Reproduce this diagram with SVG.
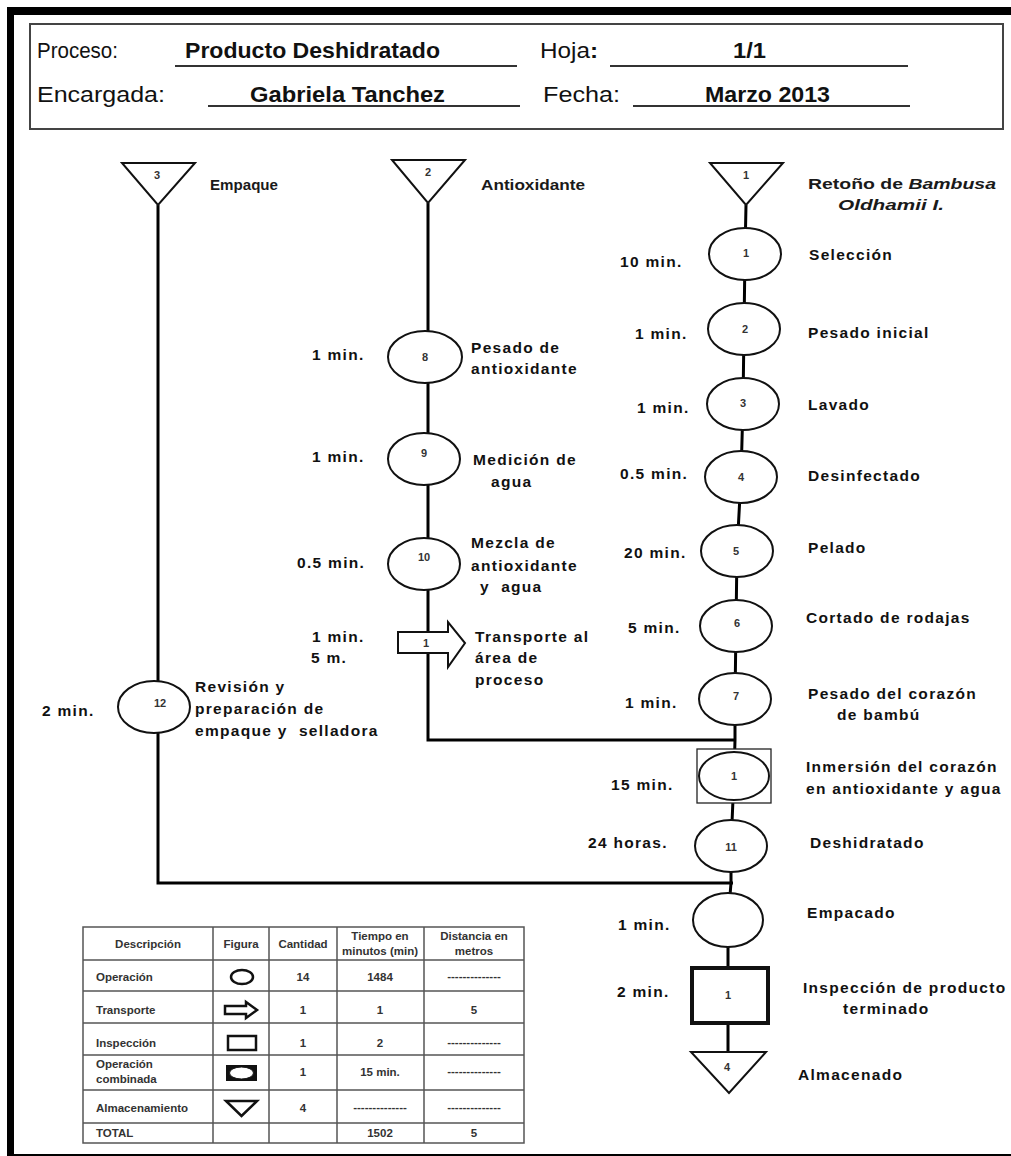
<svg xmlns="http://www.w3.org/2000/svg" width="1011" height="1156" viewBox="0 0 1011 1156">
  <style>
    .frame { fill: #000; }
    .ln { stroke: #000; stroke-width: 3; fill: none; stroke-linejoin: miter; }
    .op { fill: #fff; stroke: #111; stroke-width: 2; }
    .tri { fill: #fff; stroke: #111; stroke-width: 2; }
    .num { font-family: "Liberation Sans", Arial, sans-serif; font-weight: bold; font-size: 11px; fill: #333; text-anchor: middle; }
    .lbl { font-family: "Liberation Sans", Arial, sans-serif; font-weight: bold; font-size: 15.5px; letter-spacing: 1.3px; fill: #111; }
    .top { font-family: "Liberation Sans", Arial, sans-serif; font-size: 15px; font-weight: bold; fill: #1a1a1a; }
    .hd { font-family: "Liberation Sans", Arial, sans-serif; font-size: 22px; fill: #111; }
    .hdb { font-family: "Liberation Sans", Arial, sans-serif; font-size: 22px; font-weight: bold; fill: #111; }
    .ul { stroke: #333; stroke-width: 2; }
    .tb { stroke: #555; stroke-width: 1.5; fill: none; }
    .tt { font-family: "Liberation Sans", Arial, sans-serif; font-weight: bold; font-size: 11.5px; fill: #333; }
    .tc { text-anchor: middle; }
    .fig { fill: #fff; stroke: #111; stroke-width: 2.5; }
  </style>

  <rect width="1011" height="1156" fill="#fff"/>

  <!-- outer frame -->
  <g id="frame">
    <rect class="frame" x="7" y="7" width="1004" height="8"/>
    <rect class="frame" x="7" y="7" width="7" height="1149"/>
    <rect class="frame" x="7" y="1154" width="1004" height="2"/>
  </g>

  <!-- header block -->
  <g id="header">
    <rect x="30" y="24" width="973" height="105" fill="#fff" stroke="#444" stroke-width="2"/>
    <text class="hd" x="37" y="58" textLength="81" lengthAdjust="spacingAndGlyphs">Proceso:</text>
    <text class="hdb" x="185" y="58" textLength="255" lengthAdjust="spacingAndGlyphs">Producto Deshidratado</text>
    <line class="ul" x1="175" y1="66" x2="517" y2="66"/>
    <text class="hd" x="540" y="58" textLength="58" lengthAdjust="spacingAndGlyphs">Hoja<tspan font-weight="bold">:</tspan></text>
    <line class="ul" x1="610" y1="66" x2="908" y2="66"/>
    <text class="hdb" x="733" y="58" textLength="33" lengthAdjust="spacingAndGlyphs">1/1</text>
    <text class="hd" x="37" y="102" textLength="128" lengthAdjust="spacingAndGlyphs">Encargada:</text>
    <text class="hdb" x="250" y="102" textLength="195" lengthAdjust="spacingAndGlyphs">Gabriela Tanchez</text>
    <line class="ul" x1="208" y1="106" x2="520" y2="106"/>
    <text class="hd" x="543" y="102" textLength="77" lengthAdjust="spacingAndGlyphs">Fecha:</text>
    <text class="hdb" x="705" y="102" textLength="125" lengthAdjust="spacingAndGlyphs">Marzo 2013</text>
    <line class="ul" x1="633" y1="106" x2="910" y2="106"/>
  </g>

  <!-- connectors -->
  <g id="connectors">
    <path class="ln" d="M158 205 V883 H733"/>
    <path class="ln" d="M428 203 V740 H735"/>
    <path class="ln" d="M746 205 L745 254 L744 329 L743 404 L741 477 L737 551 L736 626 L735 699 L735 740 L734 776 L731 846 L731 883 L728 920 L728 995 L728 1052"/>
  </g>

  <!-- storage starts -->
  <g id="store3">
    <polygon class="tri" points="122,163 195,163 158,205"/>
    <text class="num" x="157" y="179">3</text>
    <text class="top" x="210" y="190" textLength="68" lengthAdjust="spacingAndGlyphs">Empaque</text>
  </g>
  <g id="store2">
    <polygon class="tri" points="392,160 465,160 428,203"/>
    <text class="num" x="428" y="176">2</text>
    <text class="top" x="481" y="190" textLength="104" lengthAdjust="spacingAndGlyphs">Antioxidante</text>
  </g>
  <g id="store1">
    <polygon class="tri" points="710,163 783,163 746,205"/>
    <text class="num" x="746" y="179">1</text>
    <text class="top" x="808" y="189" textLength="188" lengthAdjust="spacingAndGlyphs">Retoño de <tspan font-style="italic">Bambusa</tspan></text>
    <text class="top" x="838" y="210" font-style="italic" textLength="106" lengthAdjust="spacingAndGlyphs">Oldhamii I.</text>
  </g>

  <!-- main line operations -->
  <g id="op1">
    <ellipse class="op" cx="745" cy="254" rx="36" ry="26"/>
    <text class="num" x="746" y="257">1</text>
    <text class="lbl" x="620" y="267">10 min.</text>
    <text class="lbl" x="809" y="260">Selección</text>
  </g>
  <g id="op2">
    <ellipse class="op" cx="744" cy="329" rx="36" ry="26"/>
    <text class="num" x="745" y="333">2</text>
    <text class="lbl" x="635" y="339">1 min.</text>
    <text class="lbl" x="808" y="338">Pesado inicial</text>
  </g>
  <g id="op3">
    <ellipse class="op" cx="743" cy="404" rx="36" ry="26"/>
    <text class="num" x="743" y="407">3</text>
    <text class="lbl" x="637" y="413">1 min.</text>
    <text class="lbl" x="808" y="410">Lavado</text>
  </g>
  <g id="op4">
    <ellipse class="op" cx="741" cy="477" rx="36" ry="26"/>
    <text class="num" x="741" y="481">4</text>
    <text class="lbl" x="620" y="479">0.5 min.</text>
    <text class="lbl" x="808" y="481">Desinfectado</text>
  </g>
  <g id="op5">
    <ellipse class="op" cx="737" cy="551" rx="36" ry="26"/>
    <text class="num" x="736" y="555">5</text>
    <text class="lbl" x="624" y="558">20 min.</text>
    <text class="lbl" x="808" y="553">Pelado</text>
  </g>
  <g id="op6">
    <ellipse class="op" cx="736" cy="626" rx="36" ry="26"/>
    <text class="num" x="737" y="627">6</text>
    <text class="lbl" x="628" y="633">5 min.</text>
    <text class="lbl" x="806" y="623">Cortado de rodajas</text>
  </g>
  <g id="op7">
    <ellipse class="op" cx="735" cy="699" rx="36" ry="26"/>
    <text class="num" x="736" y="700">7</text>
    <text class="lbl" x="625" y="708">1 min.</text>
    <text class="lbl" x="808" y="699">Pesado del corazón</text>
    <text class="lbl" x="837" y="720">de bambú</text>
  </g>

  <!-- combined operation -->
  <g id="combined1">
    <rect x="697" y="749" width="74" height="54" fill="#fff" stroke="#222" stroke-width="1.3"/>
    <ellipse class="op" cx="734" cy="776" rx="35" ry="24"/>
    <text class="num" x="734" y="780">1</text>
    <text class="lbl" x="611" y="790">15 min.</text>
    <text class="lbl" x="806" y="772">Inmersión del corazón</text>
    <text class="lbl" x="806" y="794">en antioxidante y agua</text>
  </g>
  <g id="op11">
    <ellipse class="op" cx="731" cy="846" rx="36" ry="26"/>
    <text class="num" x="731" y="851">11</text>
    <text class="lbl" x="588" y="848">24 horas.</text>
    <text class="lbl" x="810" y="848">Deshidratado</text>
  </g>
  <g id="op-empacado">
    <ellipse class="op" cx="728" cy="920" rx="35" ry="27"/>
    <text class="lbl" x="618" y="930">1 min.</text>
    <text class="lbl" x="807" y="918">Empacado</text>
  </g>
  <g id="insp1">
    <rect x="692" y="968" width="76" height="55" fill="#fff" stroke="#111" stroke-width="4"/>
    <text class="num" x="728" y="999">1</text>
    <text class="lbl" x="617" y="997">2 min.</text>
    <text class="lbl" x="803" y="993">Inspección de producto</text>
    <text class="lbl" x="843" y="1014">terminado</text>
  </g>
  <g id="store4">
    <polygon class="tri" points="691,1052 766,1052 729,1093"/>
    <text class="num" x="727" y="1071">4</text>
    <text class="lbl" x="798" y="1080">Almacenado</text>
  </g>

  <!-- antioxidant line -->
  <g id="op8">
    <ellipse class="op" cx="425" cy="357" rx="37" ry="26"/>
    <text class="num" x="425" y="361">8</text>
    <text class="lbl" x="312" y="360">1 min.</text>
    <text class="lbl" x="471" y="353">Pesado de</text>
    <text class="lbl" x="471" y="374">antioxidante</text>
  </g>
  <g id="op9">
    <ellipse class="op" cx="424" cy="459" rx="36" ry="26"/>
    <text class="num" x="424" y="457">9</text>
    <text class="lbl" x="312" y="462">1 min.</text>
    <text class="lbl" x="473" y="465">Medición de</text>
    <text class="lbl" x="491" y="487">agua</text>
  </g>
  <g id="op10">
    <ellipse class="op" cx="424" cy="564" rx="36" ry="26"/>
    <text class="num" x="424" y="561">10</text>
    <text class="lbl" x="297" y="568">0.5 min.</text>
    <text class="lbl" x="471" y="548">Mezcla de</text>
    <text class="lbl" x="471" y="571">antioxidante</text>
    <text class="lbl" x="480" y="592" xml:space="preserve">y  agua</text>
  </g>
  <g id="transport1">
    <polygon class="op" points="398,632 448,632 448,622 465,643 448,667 448,653 398,653"/>
    <text class="num" x="426" y="647">1</text>
    <text class="lbl" x="312" y="642">1 min.</text>
    <text class="lbl" x="311" y="663">5 m.</text>
    <text class="lbl" x="475" y="642">Transporte al</text>
    <text class="lbl" x="475" y="663">área de</text>
    <text class="lbl" x="475" y="685">proceso</text>
  </g>

  <!-- packaging line -->
  <g id="op12">
    <ellipse class="op" cx="154" cy="707" rx="36" ry="26"/>
    <text class="num" x="160" y="707">12</text>
    <text class="lbl" x="42" y="716">2 min.</text>
    <text class="lbl" x="195" y="692">Revisión y</text>
    <text class="lbl" x="195" y="714">preparación de</text>
    <text class="lbl" x="195" y="736" xml:space="preserve">empaque y  selladora</text>
  </g>

  <!-- summary table -->
  <g id="summary">
    <rect class="tb" x="83" y="927" width="441" height="216" fill="#fff"/>
    <g class="tb">
      <line x1="213" y1="927" x2="213" y2="1143"/>
      <line x1="269" y1="927" x2="269" y2="1143"/>
      <line x1="337" y1="927" x2="337" y2="1143"/>
      <line x1="424" y1="927" x2="424" y2="1143"/>
      <line x1="83" y1="960" x2="524" y2="960"/>
      <line x1="83" y1="991" x2="524" y2="991"/>
      <line x1="83" y1="1023" x2="524" y2="1023"/>
      <line x1="83" y1="1055" x2="524" y2="1055"/>
      <line x1="83" y1="1090" x2="524" y2="1090"/>
      <line x1="83" y1="1123" x2="524" y2="1123"/>
    </g>
    <text class="tt tc" x="148" y="948">Descripción</text>
    <text class="tt tc" x="241" y="948">Figura</text>
    <text class="tt tc" x="303" y="948">Cantidad</text>
    <text class="tt tc" x="380" y="940">Tiempo en</text>
    <text class="tt tc" x="380" y="955">minutos (min)</text>
    <text class="tt tc" x="474" y="940">Distancia en</text>
    <text class="tt tc" x="474" y="955">metros</text>

    <text class="tt" x="96" y="981">Operación</text>
    <ellipse class="fig" cx="242" cy="977" rx="11" ry="7"/>
    <text class="tt tc" x="303" y="981">14</text>
    <text class="tt tc" x="380" y="981">1484</text>
    <text class="tt tc" x="474" y="980" font-size="8">--------------</text>

    <text class="tt" x="96" y="1014">Transporte</text>
    <polygon class="fig" points="225,1006 246,1006 246,1002 257,1010 246,1018 246,1014 225,1014" stroke-width="2"/>
    <text class="tt tc" x="303" y="1014">1</text>
    <text class="tt tc" x="380" y="1014">1</text>
    <text class="tt tc" x="474" y="1014">5</text>

    <text class="tt" x="96" y="1047">Inspección</text>
    <rect class="fig" x="228" y="1036" width="28" height="14"/>
    <text class="tt tc" x="303" y="1047">1</text>
    <text class="tt tc" x="380" y="1047">2</text>
    <text class="tt tc" x="474" y="1046" font-size="8">--------------</text>

    <text class="tt" x="96" y="1068">Operación</text>
    <text class="tt" x="96" y="1083">combinada</text>
    <rect x="226" y="1065" width="31" height="16" fill="#111"/>
    <ellipse cx="241.5" cy="1073" rx="12" ry="6" fill="#fff" stroke="#111" stroke-width="1"/>
    <text class="tt tc" x="303" y="1076">1</text>
    <text class="tt tc" x="380" y="1076">15 min.</text>
    <text class="tt tc" x="474" y="1075" font-size="8">--------------</text>

    <text class="tt" x="96" y="1112">Almacenamiento</text>
    <polygon class="fig" points="226,1101 257,1101 241.5,1116" stroke-width="2.2"/>
    <text class="tt tc" x="303" y="1112">4</text>
    <text class="tt tc" x="380" y="1111" font-size="8">--------------</text>
    <text class="tt tc" x="474" y="1111" font-size="8">--------------</text>

    <text class="tt" x="96" y="1137">TOTAL</text>
    <text class="tt tc" x="380" y="1137">1502</text>
    <text class="tt tc" x="474" y="1137">5</text>
  </g>
</svg>
